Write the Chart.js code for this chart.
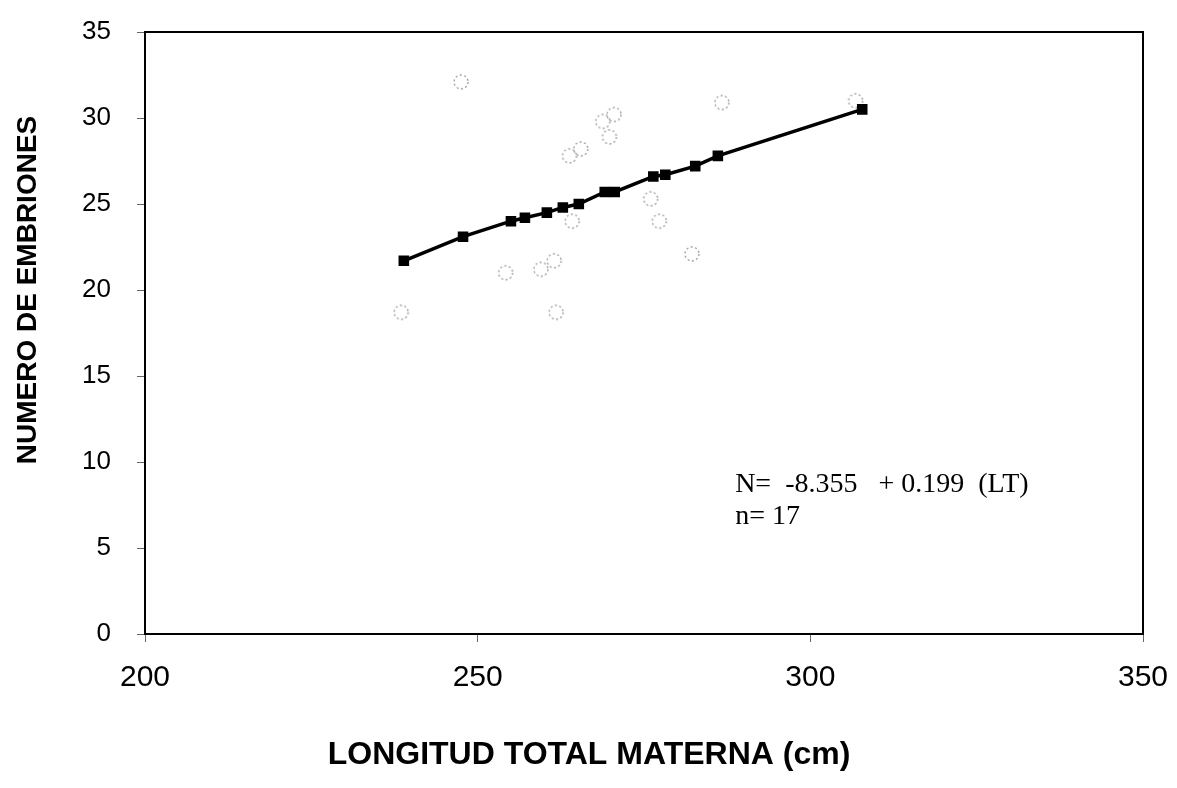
<!DOCTYPE html>
<html>
<head>
<meta charset="utf-8">
<script src="https://cdn.jsdelivr.net/npm/chart.js@4.4.0/dist/chart.umd.min.js"></script>
<style>
html,body{margin:0;padding:0;background:#fff;}
#wrap{width:1177px;height:788px;position:relative;}
</style>
</head>
<body>
<div id="wrap"><canvas id="c" width="1177" height="788"></canvas></div>
<script>
// Observed data (LT cm, number of embryos)
const obsLT  = [238.5, 247.5, 254.2, 259.5, 261.5, 261.8, 264.2, 263.8, 265.5, 268.8, 269.8, 270.5, 276.0, 277.3, 282.2, 286.7, 306.8];
const obsN   = [18.7, 32.1, 21.0, 21.2, 21.7, 18.7, 24.0, 27.8, 28.2, 29.8, 28.9, 30.2, 25.3, 24.0, 22.1, 30.9, 31.0];
// Fitted line points
const fitLT  = [238.9, 247.8, 255.0, 257.1, 260.4, 262.8, 265.2, 269.1, 270.6, 276.4, 278.2, 282.7, 286.1, 307.8];
const fitN   = [21.7, 23.1, 24.0, 24.2, 24.5, 24.8, 25.0, 25.7, 25.7, 26.6, 26.7, 27.2, 27.8, 30.5];
const xTicks = [200, 250, 300, 350];
const yTicks = [0, 5, 10, 15, 20, 25, 30, 35];
const xTitle = 'LONGITUD TOTAL MATERNA (cm)';
const yTitle = 'NUMERO DE EMBRIONES';
const eqLine1 = 'N=  -8.355   + 0.199  (LT)';
const eqLine2 = 'n= 17';

// dotted circle marker
const mk = document.createElement('canvas');
mk.width = 20; mk.height = 20;
(function(){
  const g = mk.getContext('2d');
  g.strokeStyle = '#9a9a9a';
  g.lineWidth = 1.3;
  g.setLineDash([2,2.5]);
  g.beginPath(); g.arc(10,10,7,0,Math.PI*2); g.stroke();
})();

const framePlugin = {
  id:'frame',
  afterDraw(chart){
    const {ctx, chartArea:a} = chart;
    ctx.save();
    ctx.strokeStyle = '#000';
    ctx.lineWidth = 2;
    ctx.strokeRect(a.left, a.top, a.right-a.left, a.bottom-a.top);
    ctx.fillStyle = '#000';
    ctx.textAlign = 'center';
    ctx.textBaseline = 'middle';
    ctx.font = 'bold 32px "Liberation Sans", Arial, sans-serif';
    ctx.fillText(xTitle, 589, 755);
    ctx.font = 'bold 28px "Liberation Sans", Arial, sans-serif';
    ctx.translate(28, 290);
    ctx.rotate(-Math.PI/2);
    ctx.fillText(yTitle, 0, 0);
    ctx.restore();
    ctx.save();
    ctx.fillStyle = '#000';
    ctx.font = '28px "Liberation Serif", "Times New Roman", serif';
    ctx.textAlign = 'left';
    ctx.textBaseline = 'alphabetic';
    const x = chart.scales.x, y = chart.scales.y;
    ctx.fillText(eqLine1, x.getPixelForValue(288.7), y.getPixelForValue(8.26));
    ctx.fillText(eqLine2, x.getPixelForValue(288.7), y.getPixelForValue(6.4));
    ctx.restore();
  }
};

new Chart(document.getElementById('c'), {
  type:'scatter',
  data:{
    datasets:[
      {
        data: obsLT.map((v,i)=>({x:v,y:obsN[i]})),
        pointStyle: mk,
        showLine:false,
        order:2
      },
      {
        data: fitLT.map((v,i)=>({x:v,y:fitN[i]})),
        showLine:true,
        borderColor:'#000',
        borderWidth:3.5,
        pointStyle:'rect',
        pointRadius:5,
        pointBackgroundColor:'#000',
        pointBorderColor:'#000',
        tension:0,
        order:1
      }
    ]
  },
  options:{
    responsive:false,
    animation:false,
    layout:{padding:{left:0,right:34,top:32,bottom:0}},
    plugins:{legend:{display:false},tooltip:{enabled:false}},
    scales:{
      x:{
        type:'linear', min:200, max:350,
        afterBuildTicks(s){ s.ticks = xTicks.map(v=>({value:v})); },
        afterFit(s){ s.height = 154; s.paddingLeft = 0; s.paddingRight = 0; },
        grid:{display:true, drawOnChartArea:false, drawTicks:true, tickLength:8, color:'#666'},
        border:{display:false},
        ticks:{color:'#000', padding:18, font:{size:30, family:'"Liberation Sans", Arial, sans-serif'}, maxRotation:0}
      },
      y:{
        type:'linear', min:0, max:35,
        afterBuildTicks(s){ s.ticks = yTicks.map(v=>({value:v})); },
        afterFit(s){ s.width = 145; s.paddingTop = 0; s.paddingBottom = 0; },
        grid:{display:true, drawOnChartArea:false, drawTicks:true, tickLength:8, color:'#666'},
        border:{display:false},
        ticks:{color:'#000', padding:26, font:{size:26, family:'"Liberation Sans", Arial, sans-serif'}}
      }
    }
  },
  plugins:[framePlugin]
});
</script>
</body>
</html>
